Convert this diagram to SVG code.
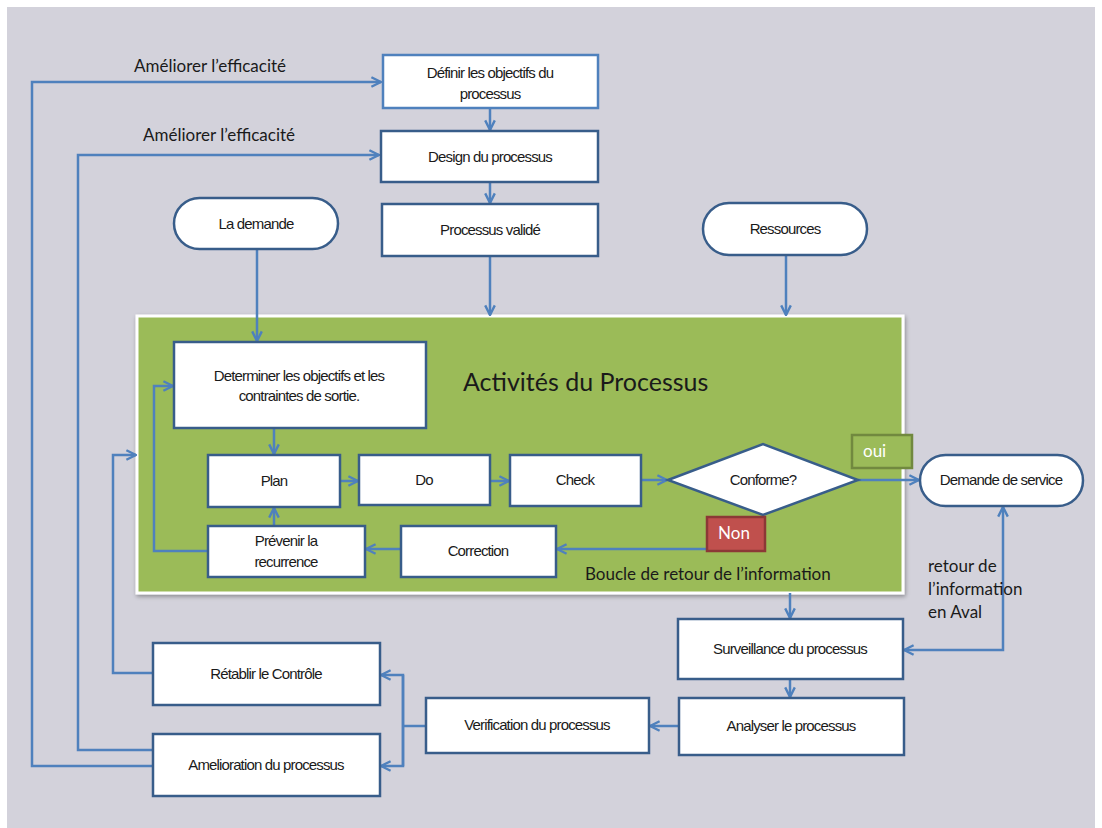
<svg xmlns="http://www.w3.org/2000/svg" width="1102" height="828" viewBox="0 0 1102 828">
  <defs>
    <style>
      .box { fill: #ffffff; stroke: #385d8a; stroke-width: 2.5; }
      .box-light { fill: #ffffff; stroke: #4f81bd; stroke-width: 2.5; }
      .lbl { font-family: "Liberation Sans", Arial, sans-serif; font-size: 15px; letter-spacing: -0.85px; fill: #1a1a1a; text-anchor: middle; }
      .cal { font-family: Lato, "Open Sans", sans-serif; fill: #1a1a1a; }
      .conn { fill: none; stroke: #4f81bd; stroke-width: 2.5; }
    </style>
    <marker id="arrow" viewBox="0 0 10 10" refX="9" refY="5" markerWidth="12" markerHeight="12" markerUnits="userSpaceOnUse" orient="auto-start-reverse">
      <path d="M1,1 L9,5 L1,9" fill="none" stroke="#4f81bd" stroke-width="2"/>
    </marker>
    <filter id="shadow" x="-5%" y="-5%" width="110%" height="115%">
      <feDropShadow dx="1" dy="2" stdDeviation="2" flood-color="#000000" flood-opacity="0.35"/>
    </filter>
  </defs>

  <!-- backdrop -->
  <rect x="0" y="0" width="1102" height="828" fill="#ffffff"/>
  <rect x="7" y="7" width="1088" height="821" fill="#d3d2db"/>

  <!-- process activities panel -->
  <g id="panel">
    <rect x="137" y="316" width="766" height="277" fill="#9bbb59" stroke="#ffffff" stroke-width="3" filter="url(#shadow)"/>
    <text x="463" y="391" class="cal" font-size="25">Activités du Processus</text>
    <text x="585" y="580" class="cal" font-size="17">Boucle de retour de l’information</text>
  </g>

  <!-- connectors -->
  <g id="connectors">
    <path class="conn" d="M153,766 H32 V82 H381" marker-end="url(#arrow)"/>
    <path class="conn" d="M153,750 H78 V155 H379" marker-end="url(#arrow)"/>
    <path class="conn" d="M153,673 H113 V455 H136" marker-end="url(#arrow)"/>
    <path class="conn" d="M490,108 V130" marker-end="url(#arrow)"/>
    <path class="conn" d="M490,182 V203" marker-end="url(#arrow)"/>
    <path class="conn" d="M490,256 V315" marker-end="url(#arrow)"/>
    <path class="conn" d="M257,249 V341" marker-end="url(#arrow)"/>
    <path class="conn" d="M786,255 V315" marker-end="url(#arrow)"/>
    <path class="conn" d="M274,428 V454" marker-end="url(#arrow)"/>
    <path class="conn" d="M340,481 H358" marker-end="url(#arrow)"/>
    <path class="conn" d="M490,481 H509" marker-end="url(#arrow)"/>
    <path class="conn" d="M641,480 H667" marker-end="url(#arrow)"/>
    <path class="conn" d="M858,480 H919" marker-end="url(#arrow)"/>
    <path class="conn" d="M707,549 H557" marker-end="url(#arrow)"/>
    <path class="conn" d="M401,549 H366" marker-end="url(#arrow)"/>
    <path class="conn" d="M274,526 V508" marker-end="url(#arrow)"/>
    <path class="conn" d="M208,551 H154 V386 H173" marker-end="url(#arrow)"/>
    <path class="conn" d="M790,593 V618" marker-end="url(#arrow)"/>
    <path class="conn" d="M904,650 H1003 V507" marker-start="url(#arrow)" marker-end="url(#arrow)"/>
    <path class="conn" d="M790,679 V697" marker-end="url(#arrow)"/>
    <path class="conn" d="M679,726 H650" marker-end="url(#arrow)"/>
    <path class="conn" d="M426,726 H403"/>
    <path class="conn" d="M403,766 V675 H381" marker-end="url(#arrow)"/>
    <path class="conn" d="M403,675 V766 H381" marker-end="url(#arrow)"/>
  </g>

  <!-- connector labels -->
  <text x="134" y="72" class="cal" font-size="17">Améliorer l’efficacité</text>
  <text x="143" y="141" class="cal" font-size="17">Améliorer l’efficacité</text>
  <g class="cal" font-size="17">
    <text x="928" y="572">retour de</text>
    <text x="928" y="595">l’information</text>
    <text x="928" y="618">en Aval</text>
  </g>

  <!-- nodes -->
  <g id="definir">
    <rect x="383" y="55" width="215" height="53" class="box-light"/>
    <text x="490" y="78" class="lbl">Définir les objectifs du</text>
    <text x="490" y="99" class="lbl">processus</text>
  </g>
  <g id="design">
    <rect x="381" y="131" width="217" height="51" class="box"/>
    <text x="490" y="162" class="lbl">Design du processus</text>
  </g>
  <g id="valide">
    <rect x="382" y="204" width="216" height="52" class="box"/>
    <text x="490" y="235" class="lbl">Processus validé</text>
  </g>
  <g id="demande">
    <rect x="174" y="198" width="164" height="51" rx="25.5" class="box"/>
    <text x="256" y="229" class="lbl">La demande</text>
  </g>
  <g id="ressources">
    <rect x="703" y="203" width="164" height="52" rx="26" class="box"/>
    <text x="785" y="234" class="lbl">Ressources</text>
  </g>
  <g id="determiner">
    <rect x="174" y="342" width="252" height="86" class="box"/>
    <text x="299" y="381" class="lbl">Determiner les objectifs et les</text>
    <text x="299" y="401" class="lbl">contraintes de sortie.</text>
  </g>
  <g id="plan">
    <rect x="208" y="455" width="132" height="52" class="box"/>
    <text x="274" y="486" class="lbl">Plan</text>
  </g>
  <g id="do">
    <rect x="359" y="455" width="131" height="50" class="box"/>
    <text x="424" y="485" class="lbl">Do</text>
  </g>
  <g id="check">
    <rect x="510" y="455" width="131" height="51" class="box"/>
    <text x="575" y="485" class="lbl">Check</text>
  </g>
  <g id="conforme">
    <polygon points="668,480 763,444 858,480 763,515" class="box"/>
    <text x="763" y="485" class="lbl">Conforme?</text>
  </g>
  <g id="oui">
    <rect x="852" y="435" width="60" height="33" fill="#9bbb59" stroke="#71893f" stroke-width="2.5"/>
    <text x="863" y="457" class="cal" font-size="17" style="fill:#ffffff">oui</text>
  </g>
  <g id="non">
    <rect x="707" y="517" width="58" height="34" fill="#c0504d" stroke="#8c3836" stroke-width="2.5"/>
    <text x="734" y="539" class="cal" font-size="17" text-anchor="middle" style="fill:#ffffff">Non</text>
  </g>
  <g id="service">
    <rect x="920" y="455" width="163" height="51" rx="25.5" class="box"/>
    <text x="1001" y="485" class="lbl">Demande de service</text>
  </g>
  <g id="prevenir">
    <rect x="208" y="526" width="157" height="51" class="box"/>
    <text x="286" y="546" class="lbl">Prévenir la</text>
    <text x="286" y="567" class="lbl">recurrence</text>
  </g>
  <g id="correction">
    <rect x="401" y="526" width="155" height="51" class="box"/>
    <text x="478" y="556" class="lbl">Correction</text>
  </g>
  <g id="surveillance">
    <rect x="678" y="619" width="225" height="60" class="box"/>
    <text x="790" y="654" class="lbl">Surveillance du processus</text>
  </g>
  <g id="analyser">
    <rect x="679" y="698" width="225" height="57" class="box"/>
    <text x="791" y="731" class="lbl">Analyser le processus</text>
  </g>
  <g id="verification">
    <rect x="426" y="698" width="223" height="55" class="box"/>
    <text x="537" y="730" class="lbl">Verification du processus</text>
  </g>
  <g id="retablir">
    <rect x="153" y="643" width="227" height="62" class="box"/>
    <text x="266" y="679" class="lbl">Rétablir le Contrôle</text>
  </g>
  <g id="amelioration">
    <rect x="153" y="734" width="227" height="62" class="box"/>
    <text x="266" y="770" class="lbl">Amelioration du processus</text>
  </g>
</svg>
